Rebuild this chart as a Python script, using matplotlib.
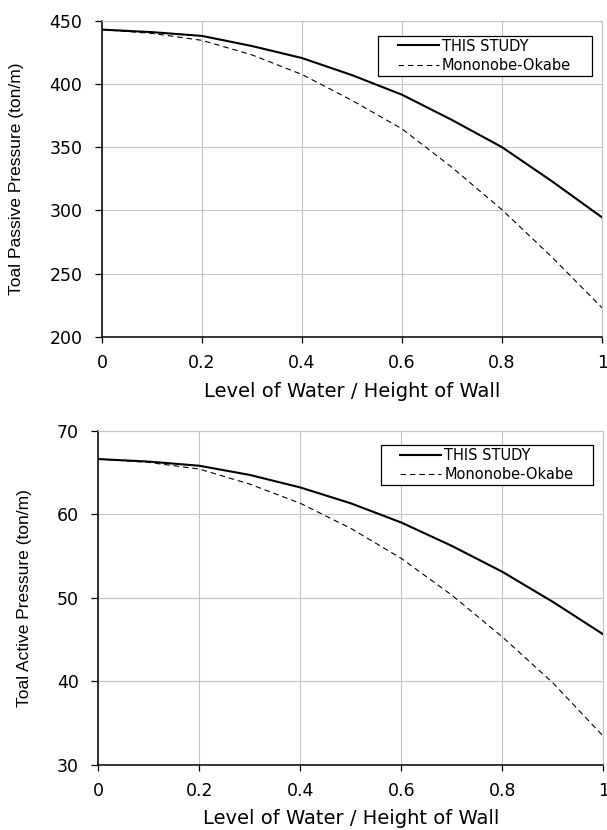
import numpy as np
import matplotlib.pyplot as plt
from matplotlib.legend_handler import HandlerLine2D

plt.rcParams['font.family'] = ['DejaVu Sans']

# Level of water / height of wall
x = [0.0, 0.1, 0.2, 0.3, 0.4, 0.5, 0.6, 0.7, 0.8, 0.9, 1.0]

# passive pressure (ton/m)
passive_study = [443, 441, 438, 430, 420.5, 407, 391.5, 371.5, 350, 323, 294.5]
passive_mo = [443, 440, 434.5, 423, 407.5, 387, 364.5, 334, 300.5, 263, 223]

# active pressure (ton/m)
active_study = [66.6, 66.3, 65.8, 64.7, 63.2, 61.3, 59.0, 56.2, 53.1, 49.5, 45.6]
active_mo = [66.6, 66.2, 65.4, 63.6, 61.3, 58.3, 54.7, 50.3, 45.3, 39.8, 33.4]

xticks = [0, 0.2, 0.4, 0.6, 0.8, 1]
xticklabels = ['0', '0.2', '0.4', '0.6', '0.8', '1']

fig = plt.figure(figsize=(6.07, 8.30), dpi=100)
ax1 = fig.add_axes([0.168, 0.594, 0.824, 0.381])
ax2 = fig.add_axes([0.162, 0.0787, 0.832, 0.4024])

grid_c = '#c4c4c4'
dash = (0, (5, 3.5))


def style(ax, ylim, yticks, ylabel, xlab_y, ylab_x, leg_box):
    ax.set_xlim(0, 1)
    ax.set_ylim(*ylim)
    ax.set_xticks(xticks)
    ax.set_xticklabels(xticklabels)
    ax.set_yticks(yticks)
    ax.grid(True, color=grid_c, linewidth=0.8)
    ax.set_axisbelow(True)
    for s in ['top', 'right']:
        ax.spines[s].set_color(grid_c)
        ax.spines[s].set_linewidth(0.8)
    for s in ['left', 'bottom']:
        ax.spines[s].set_linewidth(1.1)
    ax.tick_params(axis='y', direction='out', length=5, width=0.9, labelsize=12.5, pad=9)
    ax.tick_params(axis='x', direction='out', length=4, width=0.9, labelsize=12.5, pad=8.5)
    ax.set_xlabel('Level of Water / Height of Wall', fontsize=14)
    ax.xaxis.set_label_coords(0.5, xlab_y)
    ax.set_ylabel(ylabel, fontsize=12.5, family='Liberation Sans')
    ax.yaxis.set_label_coords(ylab_x, 0.5)
    hmap = {h: HandlerLine2D(xpad=1.16) for h in ax.get_lines()}
    leg = ax.legend(loc='upper left', bbox_to_anchor=leg_box, mode='expand',
                    borderaxespad=0, fontsize=10.5, handler_map=hmap,
                    fancybox=False, framealpha=1, edgecolor='black',
                    handlelength=3.95, handletextpad=0.21, borderpad=0.2,
                    labelspacing=0.3)
    leg.get_frame().set_linewidth(0.9)


ax1.plot(x, passive_study, color='black', lw=1.5, label='THIS STUDY')
ax1.plot(x, passive_mo, color='black', lw=0.8, ls=dash, label='Mononobe-Okabe')
style(ax1, (200, 450), [200, 250, 300, 350, 400, 450], 'Toal Passive Pressure (ton/m)',
      -0.141, -0.156, (0.552, 0.953, 0.428, 0))

ax2.plot(x, active_study, color='black', lw=1.5, label='THIS STUDY')
ax2.plot(x, active_mo, color='black', lw=0.8, ls=dash, label='Mononobe-Okabe')
style(ax2, (30, 70), [30, 40, 50, 60, 70], 'Toal Active Pressure (ton/m)',
      -0.134, -0.131, (0.559, 0.957, 0.42, 0))

fig.savefig('out.png', dpi=100)
